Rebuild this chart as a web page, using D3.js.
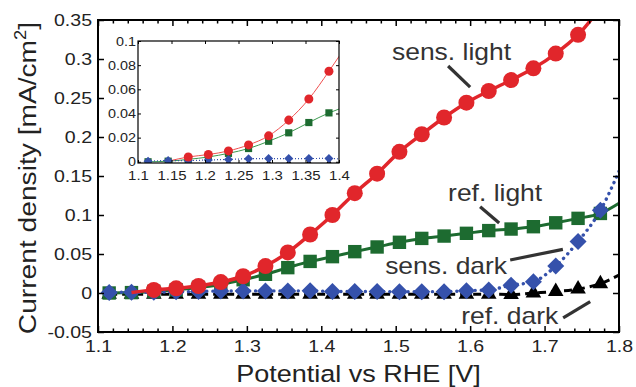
<!DOCTYPE html>
<html>
<head>
<meta charset="utf-8">
<script src="https://cdn.jsdelivr.net/npm/d3@7/dist/d3.min.js"></script>
<style>
  html, body { margin: 0; padding: 0; background: #fff; }
  svg { display: block; font-family: "Liberation Sans", Arial, Helvetica, sans-serif; }
</style>
</head>
<body>
<svg id="chart" width="636" height="387"></svg>
<script>
// ---------- data ----------
const potentials = [1.115,1.145,1.175,1.205,1.235,1.265,1.295,1.325,1.355,1.385,1.415,1.445,1.475,1.505,1.535,1.565,1.595,1.625,1.655,1.685,1.715,1.745,1.775];
const sensLight = [null,null,0.004,0.006,0.009,0.014,0.0215,0.0345,0.052,0.075,0.100,0.128,0.153,0.181,0.2035,0.225,0.244,0.259,0.273,0.288,0.307,0.331,null];
const refLight  = [0,0.0005,0.002,0.004,0.007,0.011,0.017,0.024,0.0325,0.0405,0.0466,0.053,0.059,0.065,0.070,0.073,0.0765,0.080,0.082,0.085,0.090,0.0957,0.102];
const sensDark  = [0.0005,0.001,0.001,0.0015,0.002,0.0025,0.0027,0.0027,0.0027,0.0028,0.002,0.002,0.002,0.0015,0.0017,0.0017,0.003,0.004,0.010,0.0145,0.0346,0.066,0.106];
const refDark   = [-0.0015,-0.0015,-0.0015,-0.0015,-0.0015,-0.0015,-0.0015,-0.0015,-0.0015,-0.0015,-0.0015,-0.0015,-0.0015,-0.0015,-0.0015,-0.0015,-0.0015,-0.0015,-0.002,0.000,0.002,0.005,0.012];
// fitted-curve extensions beyond the markers [potential, current]
const sensLightFitStart = [1.145, 0.0005];
const sensLightFitEnd = [1.8, 0.40];
const refLightFitEnd  = [1.8, 0.115];
const sensDarkFitEnd  = [1.8, 0.156];
const refDarkFitEnd   = [1.8, 0.023];

const seriesNames = ["ref. dark", "ref. light", "sens. dark", "sens. light"];

const xTickLabels = ["1.1","1.2","1.3","1.4","1.5","1.6","1.7","1.8"];
const yTickLabels = ["-0.05","0","0.05","0.1","0.15","0.2","0.25","0.3","0.35"];
const insetXTickLabels = ["1.1","1.15","1.2","1.25","1.3","1.35","1.4"];
const insetYTickLabels = ["0","0.02","0.04","0.06","0.08","0.1"];

// annotation anchors in data units
const annotations = [
  {text: "sens. light", at: [1.495, 0.2987], anchor: "start", lead: [[1.5704, 0.291], [1.600, 0.264]]},
  {text: "ref. light",  at: [1.5704, 0.1183], anchor: "start", lead: [[1.6134, 0.1106], [1.639, 0.0897]]},
  {text: "sens. dark",  at: [1.4858, 0.0244], anchor: "start", lead: [[1.6538, 0.0423], [1.7246, 0.056]]},
  {text: "ref. dark",   at: [1.7183, -0.0397], anchor: "end", lead: [[1.725, -0.032], [1.7613, -0.0112]]}
];

// ---------- layout ----------
const SX = 1.15; // horizontal glyph stretch
const svg = d3.select("#chart");
const M = {l: 98, r: 619, t: 20, b: 332};
const x = d3.scaleLinear().domain([1.1, 1.8]).range([M.l, M.r]);
const y = d3.scaleLinear().domain([-0.05, 0.35]).range([M.b, M.t]);

const I = {l: 138, r: 339, t: 41, b: 163};
const xi = d3.scaleLinear().domain([1.1, 1.4]).range([I.l, I.r]);
const yi = d3.scaleLinear().domain([-0.001, 0.1]).range([I.b, I.t]);

function stretchAxisText(g) {
  g.selectAll("text").each(function() {
    const t = d3.select(this);
    const tx = +t.attr("x") || 0;
    const ty = +t.attr("y") || 0;
    t.attr("x", 0).attr("y", 0).attr("transform", `translate(${tx},${ty}) scale(${SX},1)`);
  });
}
function addText(g, px, py, str, size, anchor, rot) {
  return g.append("text")
    .attr("transform", `translate(${px},${py}) rotate(${rot||0}) scale(${SX},1)`)
    .attr("text-anchor", anchor || "middle")
    .attr("font-size", size)
    .attr("fill", "#222")
    .text(str);
}

// ---------- series ----------
function build(vals, start, end) {
  const pts = potentials.map((p, i) => [p, vals[i]]).filter(d => d[1] !== null);
  const line = pts.slice();
  if (start) line.unshift(start);
  if (end) line.push(end);
  return {pts, line};
}
const S = [
  Object.assign(build(refDark, null, refDarkFitEnd), {name: seriesNames[0], color: "#000000", shape: "triangle", dash: "8 5", lw: 3, ilw: 1, idash: "2 2"}),
  Object.assign(build(refLight, null, refLightFitEnd), {name: seriesNames[1], color: "#1d6b30", shape: "square", dash: null, lw: 3, ilw: 1, idash: null, istroke: "#3c9a50"}),
  Object.assign(build(sensDark, null, sensDarkFitEnd), {name: seriesNames[2], color: "#3551ab", shape: "diamond", dash: "0.1 6", lw: 3.4, ilw: 1.2, idash: "1 2"}),
  Object.assign(build(sensLight, sensLightFitStart, sensLightFitEnd), {name: seriesNames[3], color: "#e1262b", shape: "circle", dash: null, lw: 3.5, ilw: 1, idash: null, istroke: "#f05050"})
];

function markerPath(shape, cx, cy, s) {
  if (shape === "circle") {
    return `M${cx - s},${cy}a${s},${s} 0 1,0 ${2*s},0a${s},${s} 0 1,0 ${-2*s},0Z`;
  } else if (shape === "square") {
    return `M${cx - s},${cy - s}h${2*s}v${2*s}h${-2*s}Z`;
  } else if (shape === "diamond") {
    return `M${cx},${cy - s}L${cx + s},${cy}L${cx},${cy + s}L${cx - s},${cy}Z`;
  } else {
    const h = s * Math.sqrt(3);
    return `M${cx},${cy - 2*h/3}L${cx + s},${cy + h/3}L${cx - s},${cy + h/3}Z`;
  }
}
const mainSize = {circle: 8, square: 6.7, diamond: 8.5, triangle: 7.8};
const insetSize = {circle: 4.5, square: 3.6, diamond: 4.5, triangle: 4.2};

// clip paths
const defs = svg.append("defs");
defs.append("clipPath").attr("id", "clipMain").append("rect")
  .attr("x", M.l).attr("y", M.t).attr("width", M.r - M.l).attr("height", M.b - M.t);
defs.append("clipPath").attr("id", "clipInset").append("rect")
  .attr("x", I.l).attr("y", I.t).attr("width", I.r - I.l).attr("height", I.b - I.t);

// main plot
const plot = svg.append("g").attr("clip-path", "url(#clipMain)");
const lineMain = d3.line().x(d => x(d[0])).y(d => y(d[1])).curve(d3.curveMonotoneX);
S.forEach(s => {
  plot.append("path").attr("d", lineMain(s.line))
    .attr("fill", "none").attr("stroke", s.color).attr("stroke-width", s.lw)
    .attr("stroke-dasharray", s.dash).attr("stroke-linecap", s.dash && s.dash.startsWith("0.1") ? "round" : "butt");
  plot.selectAll(null).data(s.pts).enter().append("path")
    .attr("d", d => markerPath(s.shape, x(d[0]), y(d[1]), mainSize[s.shape]))
    .attr("fill", s.color);
});

// main axes
const xMajor = xTickLabels.map(Number);
const xMinor = d3.range(1.1, 1.8001, 0.02).filter(v => !xMajor.some(m => Math.abs(m - v) < 1e-6));
const yMajor = yTickLabels.map(Number);

function axisStyle(g) {
  g.select(".domain").remove();
  g.selectAll("line").attr("stroke", "#000").attr("stroke-width", 1.5);
  g.selectAll("text").attr("fill", "#222").attr("font-family", "Liberation Sans, Arial, sans-serif");
}
const gB = svg.append("g").attr("transform", `translate(0,${M.b})`)
  .call(d3.axisBottom(x).tickValues(xMajor).tickSize(-6).tickPadding(7.5).tickFormat((d, i) => xTickLabels[i]));
gB.attr("font-size", 17); axisStyle(gB); stretchAxisText(gB);
svg.append("g").attr("transform", `translate(0,${M.b})`)
  .call(d3.axisBottom(x).tickValues(xMinor).tickSize(-3.5).tickFormat("")).call(axisStyle);
svg.append("g").attr("transform", `translate(0,${M.t})`)
  .call(d3.axisTop(x).tickValues(xMajor).tickSize(-6).tickFormat("")).call(axisStyle);
svg.append("g").attr("transform", `translate(0,${M.t})`)
  .call(d3.axisTop(x).tickValues(xMinor).tickSize(-3.5).tickFormat("")).call(axisStyle);
const gL = svg.append("g").attr("transform", `translate(${M.l},0)`)
  .call(d3.axisLeft(y).tickValues(yMajor).tickSize(-6).tickPadding(6).tickFormat((d, i) => yTickLabels[i]));
gL.attr("font-size", 17); axisStyle(gL); stretchAxisText(gL);
svg.append("g").attr("transform", `translate(${M.r},0)`)
  .call(d3.axisRight(y).tickValues(yMajor).tickSize(-6).tickFormat("")).call(axisStyle);

svg.append("rect").attr("x", M.l).attr("y", M.t).attr("width", M.r - M.l).attr("height", M.b - M.t)
  .attr("fill", "none").attr("stroke", "#000").attr("stroke-width", 2);

// axis titles
addText(svg, (M.l + M.r) / 2, 382, "Potential vs RHE [V]", 23.5, "middle");
const yl = addText(svg, 36, (M.t + M.b) / 2 + 2, "", 24.5, "middle", -90);
yl.append("tspan").text("Current density [mA/cm");
yl.append("tspan").attr("font-size", 16).attr("dy", -10).text("2");
yl.append("tspan").attr("dy", 10).text("]");

// annotations
annotations.forEach(a => {
  addText(svg, x(a.at[0]), y(a.at[1]), a.text, 23, a.anchor).attr("fill", "#333");
  svg.append("line")
    .attr("x1", x(a.lead[0][0])).attr("y1", y(a.lead[0][1]))
    .attr("x2", x(a.lead[1][0])).attr("y2", y(a.lead[1][1]))
    .attr("stroke", "#333").attr("stroke-width", 3.2);
});

// ---------- inset ----------
svg.append("rect").attr("x", I.l).attr("y", I.t).attr("width", I.r - I.l).attr("height", I.b - I.t).attr("fill", "#fff");
const iplot = svg.append("g").attr("clip-path", "url(#clipInset)");
const lineInset = d3.line().x(d => xi(d[0])).y(d => yi(d[1])).curve(d3.curveMonotoneX);
S.forEach(s => {
  iplot.append("path").attr("d", lineInset(s.line))
    .attr("fill", "none").attr("stroke", s.istroke || s.color).attr("stroke-width", s.ilw)
    .attr("stroke-dasharray", s.idash);
});
S.forEach(s => {
  iplot.selectAll(null).data(s.pts.filter(d => d[0] <= 1.4)).enter().append("path")
    .attr("d", d => markerPath(s.shape, xi(d[0]), yi(d[1]), insetSize[s.shape]))
    .attr("fill", s.color);
});
const ixT = insetXTickLabels.map(Number);
const iyT = insetYTickLabels.map(Number);
function insetAxisStyle(g) {
  g.select(".domain").remove();
  g.selectAll("line").attr("stroke", "#000").attr("stroke-width", 1);
  g.selectAll("text").attr("fill", "#222");
}
const giB = svg.append("g").attr("transform", `translate(0,${I.b})`)
  .call(d3.axisBottom(xi).tickValues(ixT).tickSize(-3).tickPadding(8).tickFormat((d, i) => insetXTickLabels[i]));
giB.attr("font-size", 13); insetAxisStyle(giB); stretchAxisText(giB);
svg.append("g").attr("transform", `translate(0,${I.t})`)
  .call(d3.axisTop(xi).tickValues(ixT).tickSize(-3).tickFormat("")).call(insetAxisStyle);
const giL = svg.append("g").attr("transform", `translate(${I.l},0)`)
  .call(d3.axisLeft(yi).tickValues(iyT).tickSize(-3).tickPadding(2).tickFormat((d, i) => insetYTickLabels[i]));
giL.attr("font-size", 12.5); insetAxisStyle(giL); stretchAxisText(giL);
svg.append("g").attr("transform", `translate(${I.r},0)`)
  .call(d3.axisRight(yi).tickValues(iyT).tickSize(-3).tickFormat("")).call(insetAxisStyle);
svg.append("rect").attr("x", I.l).attr("y", I.t).attr("width", I.r - I.l).attr("height", I.b - I.t)
  .attr("fill", "none").attr("stroke", "#000").attr("stroke-width", 1.2);
</script>
</body>
</html>
